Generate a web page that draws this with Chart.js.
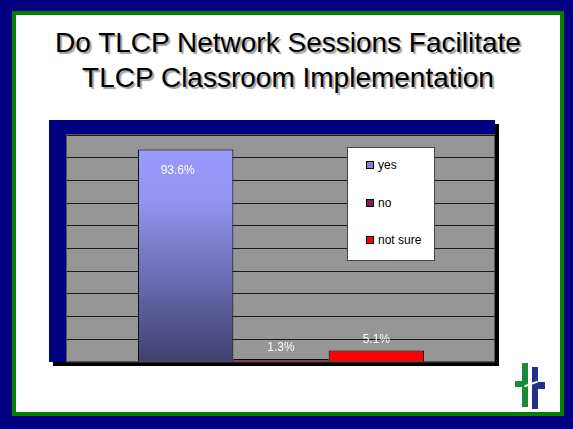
<!DOCTYPE html>
<html><head><meta charset="utf-8">
<script src="https://cdn.jsdelivr.net/npm/chart.js@4/dist/chart.umd.min.js"></script>
<style>
html,body{margin:0;padding:0;}
body{width:573px;height:429px;background:#000080;position:relative;overflow:hidden;font-family:Arial,"Liberation Sans",sans-serif;}
#green{position:absolute;left:12px;top:11px;width:552px;height:405px;background:#008000;}
#white{position:absolute;left:16px;top:15px;width:544px;height:397px;background:#fff;}
#title{position:absolute;left:16px;top:25px;width:544px;text-align:center;font-size:28px;line-height:35px;color:#000;text-shadow:2px 2px 1px #a0a0a0;}
#c{position:absolute;left:0;top:0;}
#legend{position:absolute;left:347px;top:147px;width:86px;height:112px;background:#fff;border:1px solid #444;font-size:12px;color:#000;}
.item{position:absolute;left:18px;height:14px;line-height:14px;white-space:nowrap;}
.sw{display:inline-block;width:6px;height:6px;border:1px solid #000;margin-right:4px;vertical-align:0px;}
.lg{position:absolute;}
</style></head>
<body>
<div id="green"></div>
<div id="white"></div>
<div id="title">Do TLCP Network Sessions Facilitate<br>TLCP Classroom Implementation</div>
<canvas id="c" width="573" height="429"></canvas>
<div id="legend"></div>
<div class="lg" style="left:522px;top:363px;width:6px;height:44px;background:#1a8a3a"></div>
<div class="lg" style="left:515px;top:381px;width:8px;height:6px;background:#1a8a3a"></div>
<div class="lg" style="left:532px;top:367px;width:6px;height:42px;background:#23308a"></div>
<div class="lg" style="left:537px;top:382px;width:8px;height:7px;background:#23308a"></div>
<div class="lg" style="left:524px;top:383px;width:14px;height:2px;background:#fff;transform:rotate(-20deg)"></div>
<script>
const categories = [''];
const seriesNames = ['yes', 'no', 'not sure'];
const seriesValues = [93.6, 1.3, 5.1];
const valueLabels = ['93.6%', '1.3%', '5.1%'];
const seriesColors = ['#9999ff', '#993366', '#ff0000'];
const yMin = 0, yMax = 100, yStep = 10;

function yesGradient(ctx) {
  const chart = ctx.chart;
  const ca = chart.chartArea;
  if (!ca) return seriesColors[0];
  const y = chart.scales.y;
  const top = y.getPixelForValue(seriesValues[0]);
  const bottom = y.getPixelForValue(0);
  const g = chart.ctx.createLinearGradient(0, top, 0, bottom);
  g.addColorStop(0, '#9a9aff');
  g.addColorStop(0.25, '#9393f0');
  g.addColorStop(0.6, '#6c6cb4');
  g.addColorStop(1, '#40406e');
  return g;
}

const framePlugin = {
  id: 'frame',
  beforeDraw(chart) {
    const {ctx, chartArea: ca} = chart;
    ctx.save();
    const fl = ca.left - 18, ft = ca.top - 15;
    ctx.fillStyle = '#000';
    ctx.fillRect(fl + 4, ft + 4, ca.right - fl, ca.bottom - ft);
    ctx.fillStyle = '#000080';
    ctx.fillRect(fl, ft, ca.right - fl, ca.bottom - ft);
    ctx.fillStyle = '#969696';
    ctx.fillRect(ca.left, ca.top, ca.right - ca.left, ca.bottom - ca.top);
    ctx.strokeStyle = '#555';
    ctx.lineWidth = 1;
    ctx.strokeRect(ca.left - 0.5, ca.top - 0.5, ca.right - ca.left, ca.bottom - ca.top);
    ctx.restore();
  }
};

const labelPlugin = {
  id: 'vlabels',
  afterDatasetsDraw(chart) {
    const ctx = chart.ctx;
    ctx.save();
    ctx.font = '12px Arial, "Liberation Sans", sans-serif';
    ctx.fillStyle = '#ffffff';
    ctx.textAlign = 'center';
    ctx.textBaseline = 'middle';
    chart.data.datasets.forEach((ds, i) => {
      const bar = chart.getDatasetMeta(i).data[0];
      const v = ds.data[0];
      const y = v > 50 ? bar.y + 21 : bar.y - 11;
      const dx = v > 50 ? -8 : 0;
      ctx.fillText(valueLabels[i], bar.x + dx, y);
    });
    ctx.restore();
  }
};

const chart = new Chart(document.getElementById('c'), {
  type: 'bar',
  data: {
    labels: categories,
    datasets: seriesNames.map((n, i) => ({
      label: n,
      data: [seriesValues[i]],
      backgroundColor: i === 0 ? yesGradient : seriesColors[i],
      borderColor: '#000',
      borderWidth: 1,
      categoryPercentage: 0.668,
      barPercentage: 1
    }))
  },
  options: {
    responsive: false,
    devicePixelRatio: 1,
    animation: false,
    layout: {padding: {left: 67, top: 135, right: 78, bottom: 67}},
    plugins: {legend: {display: false}, tooltip: {enabled: false}},
    scales: {
      x: {display: false},
      y: {
        display: true,
        min: yMin, max: yMax,
        ticks: {display: false, stepSize: yStep},
        border: {display: false},
        grid: {drawTicks: false, color: '#1c1c1c', lineWidth: 1}
      }
    }
  },
  plugins: [framePlugin, labelPlugin]
});

const legendEl = document.getElementById('legend');
const rowTops = [10, 48, 85];
chart.data.datasets.forEach((ds, i) => {
  const d = document.createElement('div');
  d.className = 'item';
  d.style.top = rowTops[i] + 'px';
  const sw = document.createElement('span');
  sw.className = 'sw';
  sw.style.background = i === 0 ? '#8080d0' : (i === 1 ? '#80204f' : seriesColors[i]);
  d.appendChild(sw);
  d.appendChild(document.createTextNode(ds.label));
  legendEl.appendChild(d);
});
</script>
</body></html>
